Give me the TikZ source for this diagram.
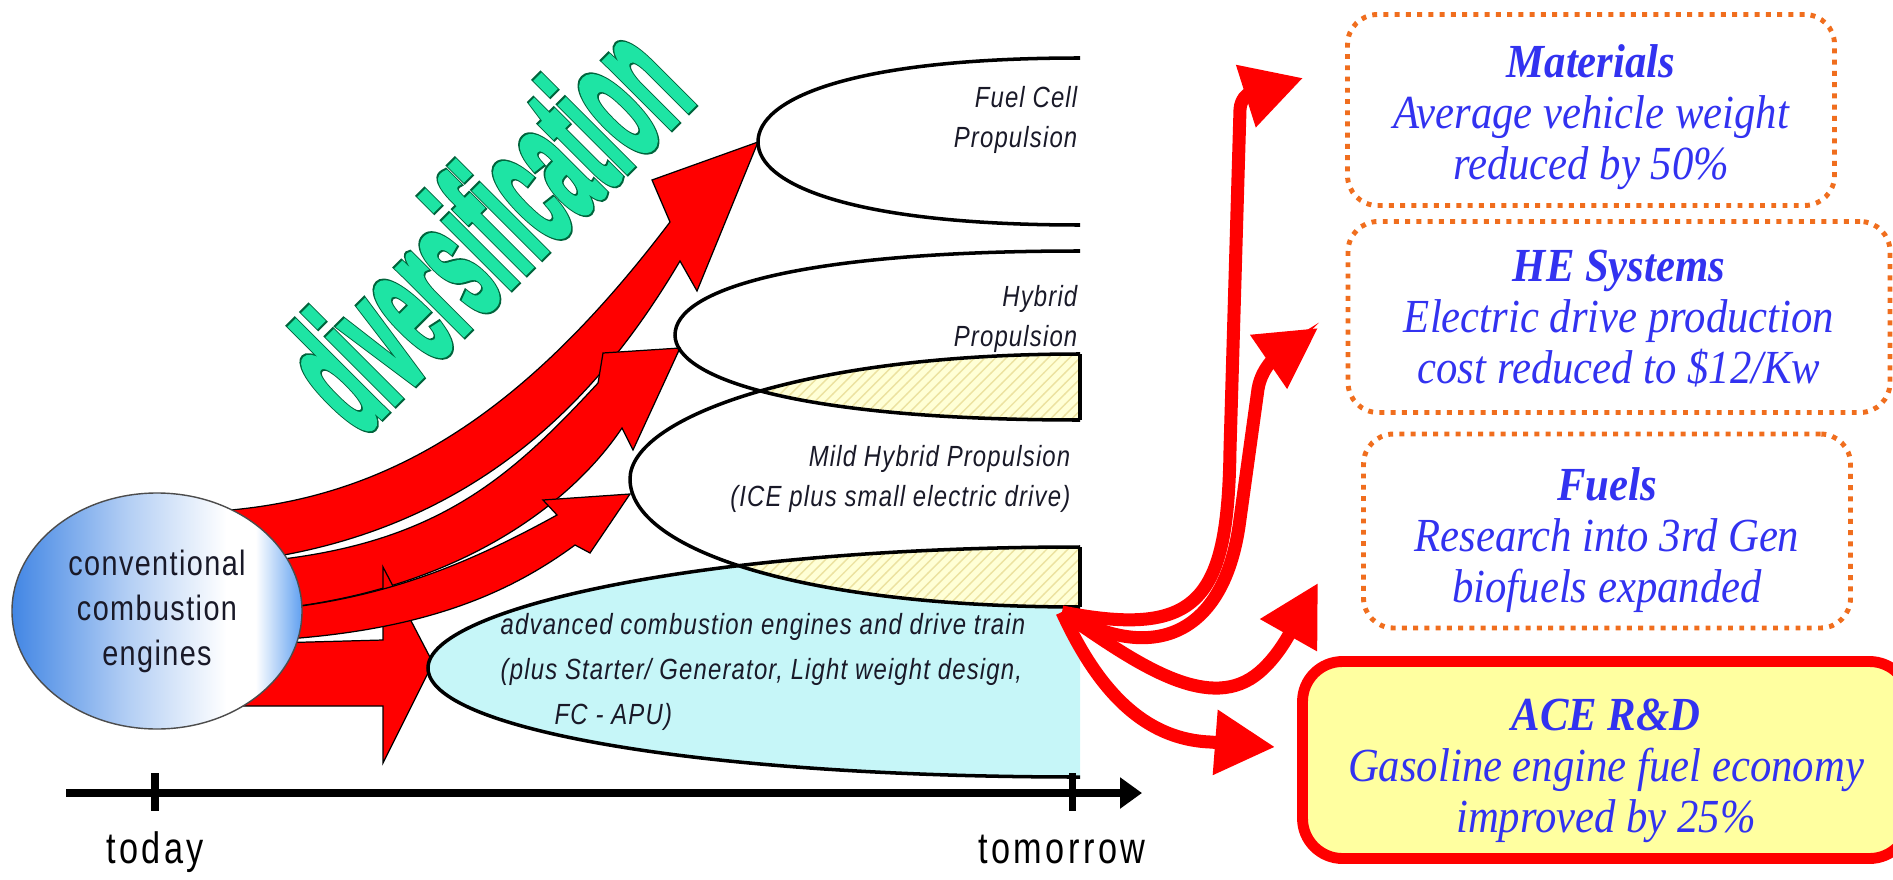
\documentclass[tikz,border=0pt]{standalone}
\usepackage{fontspec}
\usepackage{graphicx}
\usetikzlibrary{arrows.meta, shapes.geometric, patterns}

\setmainfont{Liberation Sans}
\newfontfamily\lblfont[FakeStretch=0.82,LetterSpace=4]{Liberation Sans}
\newfontfamily\axisfont[FakeStretch=0.78,LetterSpace=8]{Liberation Sans}
\newfontfamily\boxfont[FakeStretch=0.9]{Liberation Serif}
\newfontfamily\divfont[FakeBold=3]{Liberation Sans Bold}
\newfontfamily\divrimfont[FakeBold=5.5]{Liberation Sans Bold}

\definecolor{arrowred}{RGB}{255,0,0}
\definecolor{lobecyan}{RGB}{198,246,248}
\definecolor{hatchyellow}{RGB}{255,255,214}
\definecolor{hatchline}{RGB}{236,226,160}
\definecolor{divgreen}{RGB}{30,228,164}
\definecolor{divdark}{RGB}{0,100,60}
\definecolor{goalblue}{RGB}{50,50,240}
\definecolor{dotorange}{RGB}{240,110,30}
\definecolor{acefill}{RGB}{255,255,160}
\definecolor{circblue}{RGB}{66,134,228}
\definecolor{circblueR}{RGB}{96,160,240}
\definecolor{lbltext}{RGB}{25,25,40}
\colorlet{circmid}{circblue!40!white}

\pgfdeclarehorizontalshading{cceshade}{100bp}{color(0bp)=(circblue); color(25bp)=(circblue); color(45bp)=(circmid); color(62bp)=(white); color(67bp)=(white); color(75bp)=(circblueR); color(100bp)=(circblueR)}

% outlines of the propulsion lobes (open on the right)
\newcommand{\lobefc}{(1080,821) .. controls (850,821) and (758,780) .. (758,737) .. controls (758,695) and (850,654) .. (1080,654)}
\newcommand{\lobehyb}{(1080,628) .. controls (800,628) and (675,590) .. (675,544) .. controls (675,500) and (800,459) .. (1080,459)}
\newcommand{\lobemild}{(1080,525) .. controls (800,525) and (630,460) .. (630,400) .. controls (630,330) and (800,272) .. (1080,272)}
\newcommand{\lobeace}{(1080,332) .. controls (700,332) and (428,270) .. (428,211) .. controls (428,150) and (700,102) .. (1080,102)}

\tikzset{
  lobe/.style={draw=black, line width=1pt},
  bundle/.style={fill=arrowred, draw=black, line width=0.35pt},
  lobelabel/.style={text=lbltext, inner sep=0pt, font=\lblfont\itshape\fontsize{8.3}{11.5}\selectfont},
  slogan/.style={rotate=45},
  goal/.style={draw=dotorange, line width=1.4pt, dash pattern=on 1.4pt off 1.8pt, rounded corners=3mm, align=center, inner sep=0pt, text=goalblue, font=\boxfont\itshape\fontsize{13.5}{14.5}\selectfont},
  link/.style={draw=arrowred, line width=3.7pt, -{Triangle[length=6mm,width=6.2mm]}}
}

\begin{document}
\begin{tikzpicture}[x=0.1mm, y=0.1mm]
  \useasboundingbox (0,0) rectangle (1893,879);
  \clip (0,0) rectangle (1893,879);

  % red arrows leaving the conventional engines
  \filldraw[bundle] (200,367) .. controls (380,374) and (520,459) .. (670,657) -- (652,699) -- (758,737) -- (697,588) -- (680,618) .. controls (610,500) and (480,330) .. (200,314) -- cycle;
  \filldraw[bundle] (200,314) .. controls (420,320) and (500,390) .. (598,496) -- (603,526) -- (680,531) -- (633,429) -- (622,451) .. controls (560,359) and (420,267) .. (200,266) -- cycle;
  \filldraw[bundle] (200,234) -- (383,239) -- (383,312) -- (433,216) -- (383,116) -- (383,173) -- (200,173) -- cycle;
  \filldraw[bundle] (200,266) .. controls (350,267) and (450,305) .. (557,364) -- (543,379) -- (630,385) -- (590,326) -- (575,334) .. controls (500,279) and (400,237) .. (200,237) -- cycle;

  % lobes: fill, overlaps, then outlines
  \fill[lobecyan] \lobeace -- cycle;
  \begin{scope}
    \clip \lobemild -- cycle;
    \fill[hatchyellow] \lobehyb -- cycle;
    \fill[hatchyellow] \lobeace -- cycle;
    \fill[pattern=north east lines, pattern color=hatchline] \lobehyb -- cycle;
    \fill[pattern=north east lines, pattern color=hatchline] \lobeace -- cycle;
  \end{scope}
  \draw[lobe] \lobefc;
  \draw[lobe] \lobehyb;
  \draw[lobe] \lobemild;
  \draw[lobe] \lobeace;
  \draw[lobe] (1080,525) -- (1080,459);
  \draw[lobe] (1080,332) -- (1080,272);

  \node[lobelabel, align=right, anchor=east] (fclbl) at (1078,759) {Fuel Cell\\Propulsion};
  \node[lobelabel, align=right, anchor=east] (hyblbl) at (1078,560) {Hybrid\\Propulsion};
  \node[lobelabel, align=right, anchor=east] (mildlbl) at (1071,400) {Mild Hybrid Propulsion\\(ICE plus small electric drive)};
  \node[lobelabel, align=left, anchor=west, font=\lblfont\itshape\fontsize{8.3}{12.8}\selectfont] (acelbl) at (500,207) {advanced combustion engines and drive train\\(plus Starter/ Generator, Light weight design,\\\hspace*{5.4mm}FC - APU)};

  % conventional engines
  \node[ellipse, draw=black!70, line width=0.4pt, shade, shading=cceshade, minimum width=29mm, minimum height=23.6mm, align=center, text=lbltext, font=\lblfont\fontsize{10}{12.8}\selectfont] (cce) at (157,268) {conventional\\combustion\\engines};

  % slogan: dark rim underneath, green letters on top
  \node[slogan, text=divdark, font=\divrimfont\fontsize{50}{50}\selectfont] (divrim) at (484,654) {\scalebox{0.4}[1]{diversification}};
  \node[slogan, text=divgreen, font=\divfont\fontsize{50}{50}\selectfont] (div) at (484,654) {\scalebox{0.4}[1]{diversification}};

  % time axis
  \draw[line width=2pt, -{Triangle[length=2.2mm,width=3mm]}] (66,86) -- (1142,86);
  \draw[line width=2pt] (155,106) -- (155,68);
  \draw[line width=2pt] (1072,106) -- (1072,68);
  \node[anchor=base, font=\axisfont\fontsize{12.5}{13}\selectfont] (today) at (155,16) {today};
  \node[anchor=base, font=\axisfont\fontsize{12.5}{13}\selectfont] (tomorrow) at (1062,16) {tomorrow};

  % R&D goals
  \node[goal, text height=42.4pt, minimum width=48.7mm, minimum height=19.1mm] (mat) at (1591,769) {\textbf{Materials}\\Average vehicle weight\\reduced by 50\%};
  \node[goal, text height=39pt, minimum width=54.2mm, minimum height=19.1mm] (hes) at (1619,562) {\textbf{HE Systems}\\Electric drive production\\cost reduced to \$12/Kw};
  \node[goal, text height=43.6pt, minimum width=48.7mm, minimum height=19.4mm] (fuel) at (1607,348) {\textbf{Fuels}\\Research into 3rd Gen\\biofuels expanded};
  \node[goal, text height=44.4pt, draw=arrowred, line width=3.1pt, solid, fill=acefill, rounded corners=4mm, minimum width=60.7mm, minimum height=19.7mm] (ace) at (1606,119) {\textbf{ACE R\&D}\\Gasoline engine fuel economy\\improved by 25\%};

  % links from the advanced engines to the goals
  \coordinate (src) at (1062,267);
  \coordinate (tipmat) at (1303,801);
  \coordinate (tiphes) at (1318,551);
  \coordinate (tipfuel) at (1318,296);
  \coordinate (tipace) at (1275,132);
  \draw[link] (src) .. controls (1200,240) and (1228,280) .. (1230,430) -- (1240,770) .. controls (1242,790) and (1262,788) .. (tipmat);
  \draw[link] (src) .. controls (1150,215) and (1225,240) .. (1240,360) -- (1258,490) .. controls (1262,515) and (1283,527) .. (tiphes);
  \draw[link] (src) .. controls (1130,220) and (1200,170) .. (1250,200) .. controls (1275,215) and (1292,250) .. (tipfuel);
  \draw[link] (src) .. controls (1095,195) and (1140,140) .. (1210,137) -- (tipace);
\end{tikzpicture}
\end{document}
